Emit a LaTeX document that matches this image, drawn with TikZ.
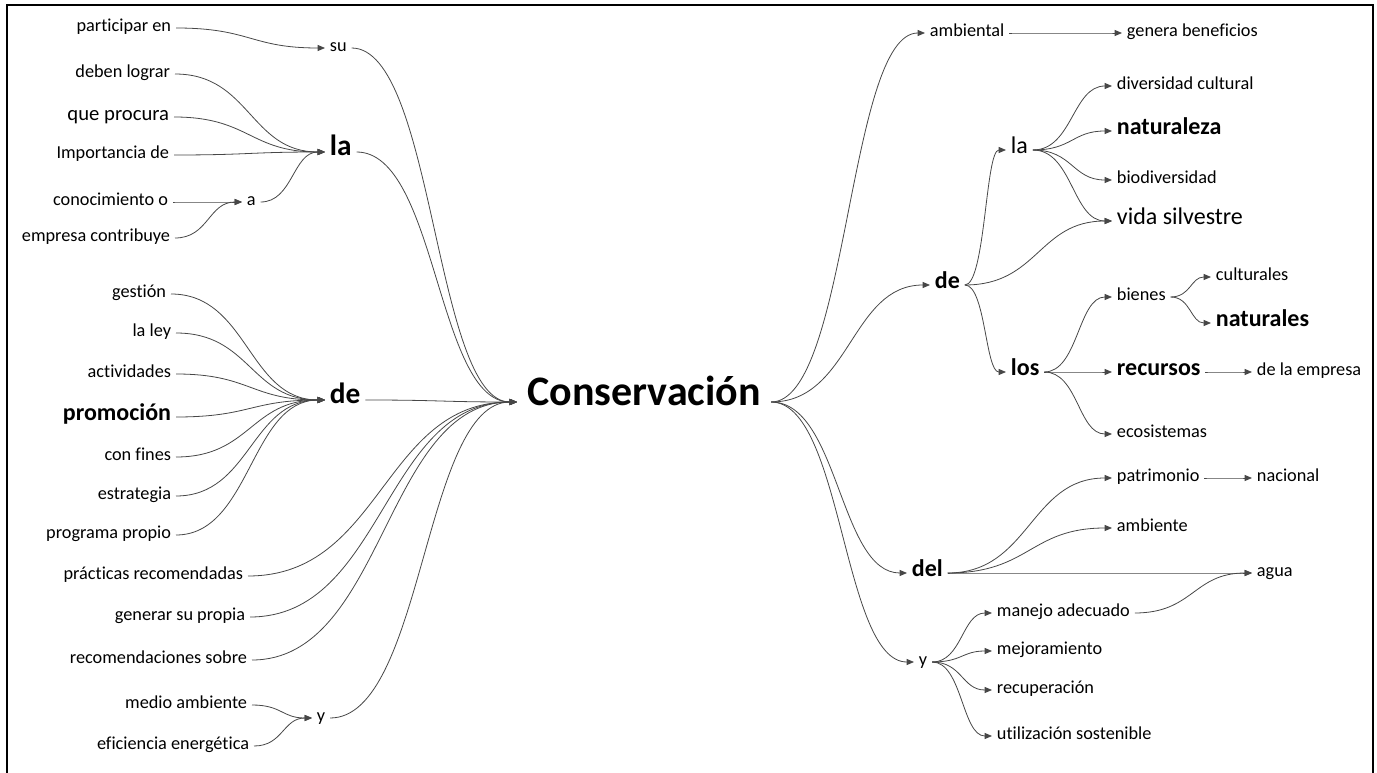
\documentclass[tikz,border=0pt]{standalone}
\usepackage{fontspec}
\setmainfont[Ligatures=NoCommon]{Carlito}
\usetikzlibrary{calc,arrows.meta}
\tikzset{
  w/.style={inner xsep=3.5pt, inner ysep=0pt, text height=1ex, text depth=0pt, font=\fontsize{13.7}{14}\selectfont},
  wm/.style={w, font=\fontsize{15.5}{16}\selectfont},
  wl/.style={w, font=\fontsize{18}{18}\selectfont},
  wb/.style={w, font=\bfseries\fontsize{18}{18}\selectfont},
  wbb/.style={w, font=\bfseries\fontsize{22}{22}\selectfont},
  wtitle/.style={w, inner xsep=7.5pt, font=\bfseries\fontsize{31.5}{32}\selectfont},
  conn/.style={draw=black!72, line width=0.6pt, -{Triangle[length=5.5pt,width=4.5pt]}},
  frame/.style={draw=black, line width=1.6pt}
}
\newcommand\mmconn[2]{\draw[conn] let \p1=(#1), \p2=(#2) in (\p1) .. controls ({(\x1+\x2)/2},\y1) and ({(\x1+\x2)/2},\y2) .. (\p2);}
\begin{document}
\begin{tikzpicture}[x=0.75pt,y=-0.75pt]
\useasboundingbox (0,0) rectangle (1377,773);
\draw[frame] (7,773) -- (7,5) -- (1373,5) -- (1373,773);

% centre
\node[wtitle, anchor=west] (cons) at (517,402) {Conservación};

% left side
\node[w, anchor=east] (pen) at (176,28) {participar en};
\node[w, anchor=west] (su) at (325,48) {su};
\node[w, anchor=east] (deb) at (175,74) {deben lograr};
\node[wm, anchor=east] (que) at (174,117) {que procura};
\node[w, anchor=east] (imp) at (174,155) {Importancia de};
\node[wbb, anchor=west] (laL) at (325,152) {la};
\node[w, anchor=east] (cono) at (173,202) {conocimiento o};
\node[w, anchor=west] (aL) at (242,202) {a};
\node[w, anchor=east] (empc) at (175,238) {empresa contribuye};
\node[w, anchor=east] (ges) at (171,294) {gestión};
\node[w, anchor=east] (ley) at (176,333) {la ley};
\node[w, anchor=east] (act) at (176,374) {actividades};
\node[wb, anchor=east] (pro) at (176,417) {promoción};
\node[w, anchor=east] (fin) at (176,457) {con fines};
\node[w, anchor=east] (est) at (176,496) {estrategia};
\node[w, anchor=east] (prog) at (176,535) {programa propio};
\node[wbb, anchor=west] (deL) at (325,400) {de};
\node[w, anchor=east] (pra) at (248,576) {prácticas recomendadas};
\node[w, anchor=east] (gen) at (250,617) {generar su propia};
\node[w, anchor=east] (rec) at (252,660) {recomendaciones sobre};
\node[w, anchor=east] (med) at (252,705) {medio ambiente};
\node[w, anchor=east] (efi) at (254,746) {eficiencia energética};
\node[w, anchor=west] (yL) at (312,718) {y};

% right side
\node[w, anchor=west] (amb) at (925,33) {ambiental};
\node[w, anchor=west] (gben) at (1122,33) {genera beneficios};
\node[wb, anchor=west] (deR) at (930,285) {de};
\node[wl, anchor=west] (laR) at (1006,150) {la};
\node[w, anchor=west] (div) at (1112,86) {diversidad cultural};
\node[wb, anchor=west] (nat) at (1112,131) {naturaleza};
\node[w, anchor=west] (bio) at (1112,180) {biodiversidad};
\node[wl, anchor=west] (vid) at (1112,221) {vida silvestre};
\node[wb, anchor=west] (losR) at (1006,372) {los};
\node[w, anchor=west] (bie) at (1112,297) {bienes};
\node[w, anchor=west] (cul) at (1211,277) {culturales};
\node[wb, anchor=west] (nats) at (1211,323) {naturales};
\node[wb, anchor=west] (recu) at (1112,372) {recursos};
\node[w, anchor=west] (dle) at (1252,372) {de la empresa};
\node[w, anchor=west] (eco) at (1112,434) {ecosistemas};
\node[w, anchor=west] (pat) at (1112,478) {patrimonio};
\node[w, anchor=west] (nac) at (1252,478) {nacional};
\node[w, anchor=west] (ambi) at (1112,528) {ambiente};
\node[wb, anchor=west] (del) at (907,573) {del};
\node[w, anchor=west] (agu) at (1252,573) {agua};
\node[w, anchor=west] (man) at (992,613) {manejo adecuado};
\node[w, anchor=west] (mej) at (992,651) {mejoramiento};
\node[w, anchor=west] (recp) at (992,690) {recuperación};
\node[w, anchor=west] (uti) at (992,736) {utilización sostenible};
\node[w, anchor=west] (yR) at (914,662) {y};

% left connectors
\mmconn{pen.east}{su.west}
\mmconn{su.east}{cons.west}
\mmconn{deb.east}{laL.west}
\mmconn{que.east}{laL.west}
\mmconn{imp.east}{laL.west}
\mmconn{aL.east}{laL.west}
\mmconn{cono.east}{aL.west}
\mmconn{empc.east}{aL.west}
\mmconn{laL.east}{cons.west}
\mmconn{ges.east}{deL.west}
\mmconn{ley.east}{deL.west}
\mmconn{act.east}{deL.west}
\mmconn{pro.east}{deL.west}
\mmconn{fin.east}{deL.west}
\mmconn{est.east}{deL.west}
\mmconn{prog.east}{deL.west}
\mmconn{deL.east}{cons.west}
\mmconn{pra.east}{cons.west}
\mmconn{gen.east}{cons.west}
\mmconn{rec.east}{cons.west}
\mmconn{med.east}{yL.west}
\mmconn{efi.east}{yL.west}
\mmconn{yL.east}{cons.west}

% right connectors
\mmconn{cons.east}{amb.west}
\mmconn{amb.east}{gben.west}
\mmconn{cons.east}{deR.west}
\mmconn{deR.east}{laR.west}
\mmconn{laR.east}{div.west}
\mmconn{laR.east}{nat.west}
\mmconn{laR.east}{bio.west}
\mmconn{laR.east}{vid.west}
\mmconn{deR.east}{vid.west}
\mmconn{deR.east}{losR.west}
\mmconn{losR.east}{bie.west}
\mmconn{losR.east}{recu.west}
\mmconn{losR.east}{eco.west}
\mmconn{bie.east}{cul.west}
\mmconn{bie.east}{nats.west}
\mmconn{recu.east}{dle.west}
\mmconn{cons.east}{del.west}
\mmconn{del.east}{pat.west}
\mmconn{del.east}{ambi.west}
\mmconn{del.east}{agu.west}
\mmconn{pat.east}{nac.west}
\mmconn{man.east}{agu.west}
\mmconn{cons.east}{yR.west}
\mmconn{yR.east}{man.west}
\mmconn{yR.east}{mej.west}
\mmconn{yR.east}{recp.west}
\mmconn{yR.east}{uti.west}
\end{tikzpicture}
\end{document}
